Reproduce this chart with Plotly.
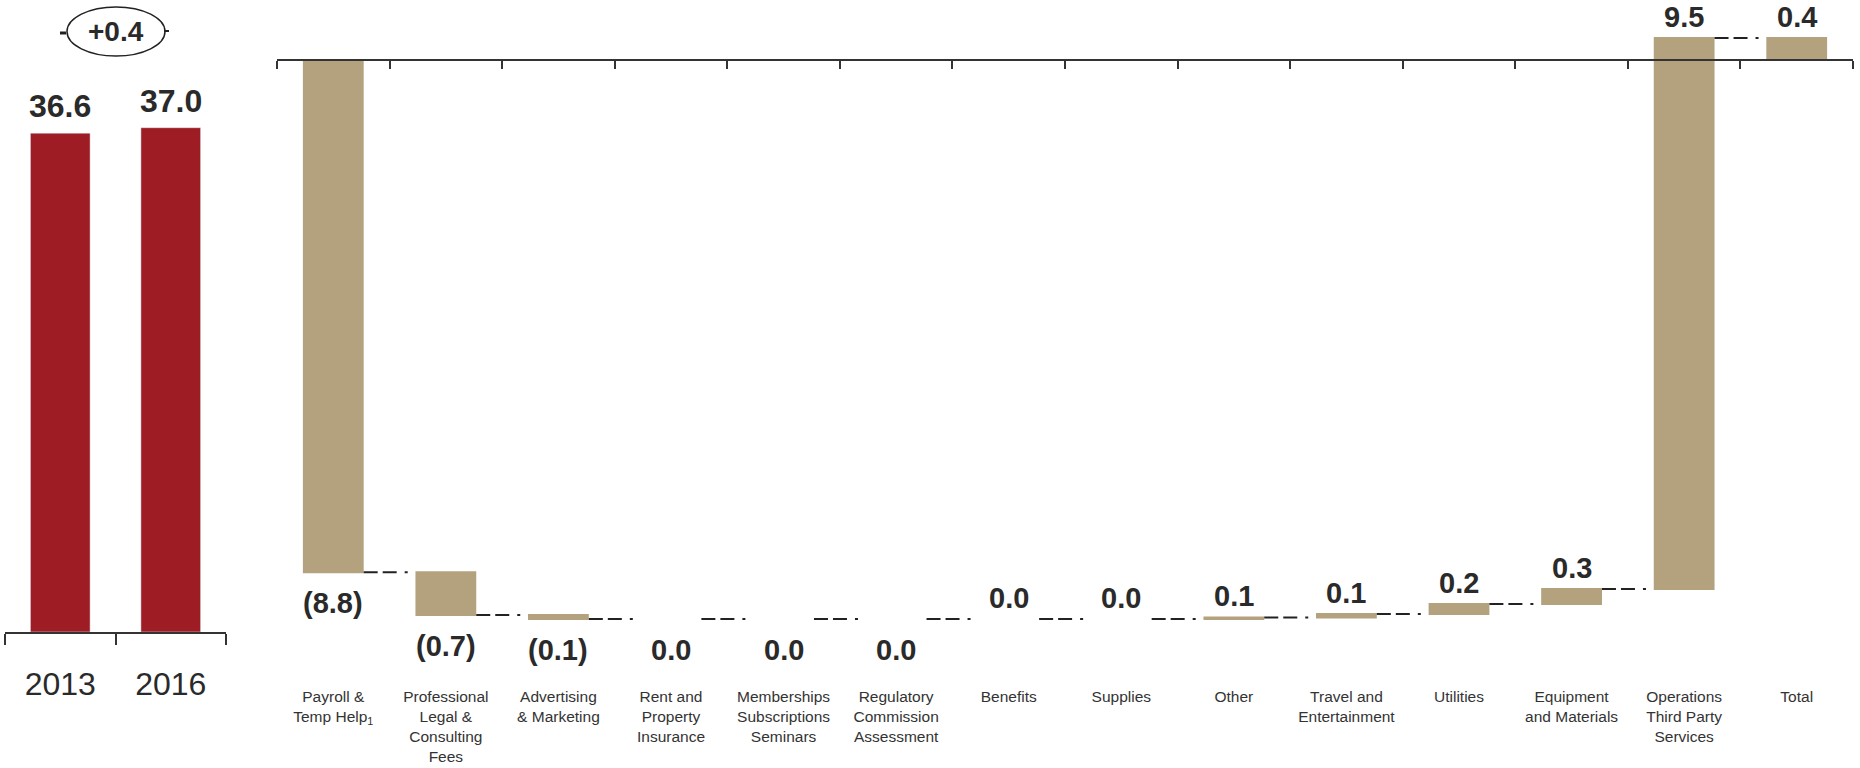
import plotly.graph_objects as go

# ---------------- data ----------------
years = ["2013", "2016"]
year_totals = [36.6, 37.0]

categories = [
    "Payroll &<br>Temp Help<sub>1</sub>",
    "Professional<br>Legal &<br>Consulting<br>Fees",
    "Advertising<br>& Marketing",
    "Rent and<br>Property<br>Insurance",
    "Memberships<br>Subscriptions<br>Seminars",
    "Regulatory<br>Commission<br>Assessment",
    "Benefits",
    "Supplies",
    "Other",
    "Travel and<br>Entertainment",
    "Utilities",
    "Equipment<br>and Materials",
    "Operations<br>Third Party<br>Services",
    "Total",
]
changes = [-8.83, -0.74, -0.07, 0.0, 0.0, 0.0, 0.0, 0.0, 0.03, 0.06, 0.17, 0.26, 9.50, None]
measures = ["relative"] * 13 + ["total"]
value_labels = ["(8.8)", "(0.7)", "(0.1)", "0.0", "0.0", "0.0", "0.0", "0.0",
                "0.1", "0.1", "0.2", "0.3", "9.5", "0.4"]
label_side = ["below"] * 6 + ["above"] * 8

# ---------------- style ----------------
W, H = 1860, 768
RED = "#9e1c23"
TAN = "#b3a27d"
AXIS = "#333333"
TXT = "#2a2a2a"
FONT = "Arial, Liberation Sans, sans-serif"


def fx(p):
    return min(1.0, max(0.0, p / W))


def fy(p):
    return min(1.0, max(0.0, 1 - p / H))


# left chart pixel geometry
L_BASE, L_TOP, L_K = 632, 20, 13.63
# right chart pixel geometry
R_ZERO, R_TOP, R_BOT, R_K = 60, 10, 700, 58.0

fig = go.Figure()

fig.add_trace(go.Bar(
    x=years, y=year_totals, marker_color=RED, width=0.54,
    xaxis="x", yaxis="y", hoverinfo="skip", showlegend=False,
))

fig.add_trace(go.Waterfall(
    x=categories, y=[c if c is not None else 0 for c in changes], measure=measures,
    increasing=dict(marker=dict(color=TAN)),
    decreasing=dict(marker=dict(color=TAN)),
    totals=dict(marker=dict(color=TAN)),
    connector=dict(mode="between",
                   line=dict(color="#222222", width=2, dash="14px,5px,14px,8px,3px,60px")),
    width=0.54, textinfo="none", hoverinfo="skip", showlegend=False,
    xaxis="x2", yaxis="y2",
))

annotations = []
# left value labels
for i, v in enumerate(year_totals):
    annotations.append(dict(
        x=i, y=v, xref="x", yref="y", text=f"{v:.1f}", showarrow=False,
        yanchor="middle", yshift=27,
        font=dict(family=FONT, size=32, color=TXT, weight="bold"),
    ))

# right value labels from cumulative levels
level = 0.0
for i, (ch, m) in enumerate(zip(changes, measures)):
    if m == "total":
        start, end = 0.0, level
    else:
        start, end = level, level + ch
        level = end
    lo, hi = min(start, end), max(start, end)
    if label_side[i] == "below":
        y, shift = lo, -31
    else:
        y, shift = hi, 21
    annotations.append(dict(
        x=i, y=y, xref="x2", yref="y2", text=value_labels[i], showarrow=False,
        yanchor="middle", yshift=shift,
        font=dict(family=FONT, size=29, color=TXT, weight="bold"),
    ))

# difference bubble
diff = year_totals[1] - year_totals[0]
annotations.append(dict(
    x=fx(116), y=fy(32), xref="paper", yref="paper", text=f"+{diff:.1f}",
    showarrow=False, xanchor="center", yanchor="middle",
    font=dict(family=FONT, size=28, color=TXT, weight="bold"),
))

shapes = [
    dict(type="circle", xref="paper", yref="paper",
         x0=fx(67), x1=fx(165), y0=fy(56), y1=fy(7),
         line=dict(color="#222222", width=1.5)),
    dict(type="line", xref="paper", yref="paper",
         x0=fx(60), x1=fx(66), y0=fy(33), y1=fy(33),
         line=dict(color="#222222", width=3)),
    dict(type="line", xref="paper", yref="paper",
         x0=fx(164), x1=fx(169), y0=fy(31), y1=fy(31),
         line=dict(color="#222222", width=2)),
]

fig.update_layout(
    width=W, height=H,
    margin=dict(l=0, r=0, t=0, b=0),
    paper_bgcolor="white", plot_bgcolor="white",
    showlegend=False,
    annotations=annotations,
    shapes=shapes,
    xaxis=dict(
        domain=[fx(5), fx(226)], anchor="y",
        type="category", range=[-0.5, 1.5],
        showline=True, linecolor=AXIS, linewidth=2,
        ticks="outside", tickson="boundaries", ticklen=11, tickwidth=2, tickcolor=AXIS,
        tickfont=dict(family=FONT, size=32, color=TXT),
        ticklabelstandoff=23,
        showgrid=False, zeroline=False,
    ),
    yaxis=dict(
        domain=[fy(L_BASE), fy(L_TOP)], anchor="x",
        range=[0, (L_BASE - L_TOP) / L_K],
        visible=False, showgrid=False, zeroline=False,
    ),
    xaxis2=dict(
        domain=[fx(277), fx(1853)], anchor="free", position=fy(R_ZERO),
        type="category", range=[-0.5, 13.5],
        showline=True, linecolor=AXIS, linewidth=2,
        ticks="outside", tickson="boundaries", ticklen=8, tickwidth=2, tickcolor=AXIS,
        tickfont=dict(family=FONT, size=15.5, color="#333333"),
        ticklabelstandoff=622,
        showgrid=False, zeroline=False,
    ),
    yaxis2=dict(
        domain=[fy(R_BOT), fy(R_TOP)], anchor="x2",
        range=[-(R_BOT - R_ZERO) / R_K, (R_ZERO - R_TOP) / R_K],
        visible=False, showgrid=False, zeroline=False,
    ),
)

fig.write_html(
    "out.html",
    config={"displayModeBar": False, "staticPlot": True},
    post_script="document.body.style.margin='0';document.body.style.overflow='hidden';",
)
